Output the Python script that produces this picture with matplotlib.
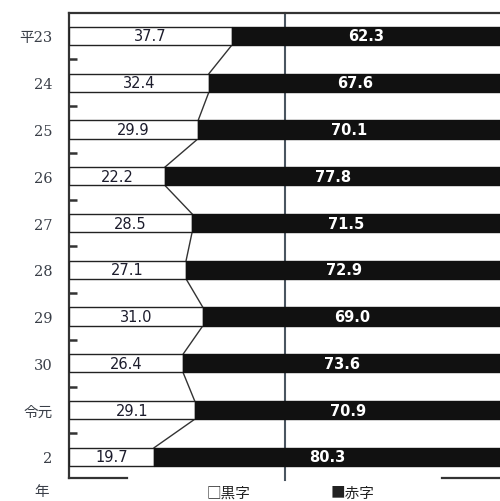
import matplotlib.pyplot as plt

# 黒字・赤字の割合（%）
years = ["平23", "24", "25", "26", "27", "28", "29", "30", "令元", "2"]
kuroji = [37.7, 32.4, 29.9, 22.2, 28.5, 27.1, 31.0, 26.4, 29.1, 19.7]
akaji = [62.3, 67.6, 70.1, 77.8, 71.5, 72.9, 69.0, 73.6, 70.9, 80.3]

plt.rcParams['font.family'] = ['DejaVu Sans', 'Noto Sans CJK JP']

fig = plt.figure(figsize=(5, 5.02), dpi=100)
ax = fig.add_axes([0.138, 0.046, 0.864, 0.926])

pos = list(range(len(years)))
h = 0.39
ax.barh(pos, kuroji, height=h, color="white", edgecolor="#222222", linewidth=1.0, zorder=3)
ax.barh(pos, akaji, left=kuroji, height=h, color="#111111", edgecolor="#111111", linewidth=1.0, zorder=3)

# 区切り線
for i in range(len(years) - 1):
    ax.plot([kuroji[i], kuroji[i + 1]], [i + h / 2, i + 1 - h / 2], color="#333333", lw=1.0, zorder=2)

for i in pos:
    ax.text(kuroji[i] / 2, i, f"{kuroji[i]:.1f}", ha="center", va="center",
            fontsize=10.5, color="#1c1c2c", zorder=4)
    ax.text(kuroji[i] + akaji[i] / 2, i, f"{akaji[i]:.1f}", ha="center", va="center",
            fontsize=10.5, color="white", fontweight="bold", zorder=4)

ax.axvline(50, ymin=-0.005, ymax=1, color="#4a5560", lw=1.5, zorder=1, clip_on=False)

ax.set_xlim(0, 100)
ax.set_ylim(9.45, -0.49)
ax.set_xticks([])
ax.set_yticks(pos)
ax.set_yticklabels(years, family=['DejaVu Serif', 'Noto Sans CJK JP'], fontsize=10.5, color="#3a3f48")
ax.tick_params(axis="y", which="major", length=0, pad=12)
ax.set_yticks([i + 0.5 for i in range(len(years) - 1)], minor=True)
ax.tick_params(axis="y", which="minor", direction="in", length=6, width=1.8, color="#333333")

for s in ["top", "left"]:
    ax.spines[s].set_linewidth(1.6)
    ax.spines[s].set_color("#333333")
ax.spines["right"].set_visible(False)
ax.spines["bottom"].set_visible(False)
# 下側の枠線（凡例部分は途切れる）
ax.plot([0, 13.5], [9.45, 9.45], color="#333333", lw=1.6, clip_on=False)
ax.plot([86.3, 100], [9.45, 9.45], color="#333333", lw=1.6, clip_on=False)

fig.text(42 / 500, 1 - 492 / 502, "年", family=['Noto Sans CJK JP'], fontsize=10.5,
         color="#3a3f48", ha="center", va="center")
fig.text(228 / 500, 1 - 494 / 502, "□黒字", family=['Noto Sans CJK JP', 'DejaVu Sans'],
         fontsize=10.5, color="#222222", ha="center", va="center")
fig.text(352 / 500, 1 - 494 / 502, "■赤字", family=['Noto Sans CJK JP', 'DejaVu Sans'],
         fontsize=10.5, color="#222222", ha="center", va="center")

fig.savefig("out.png", dpi=100)
